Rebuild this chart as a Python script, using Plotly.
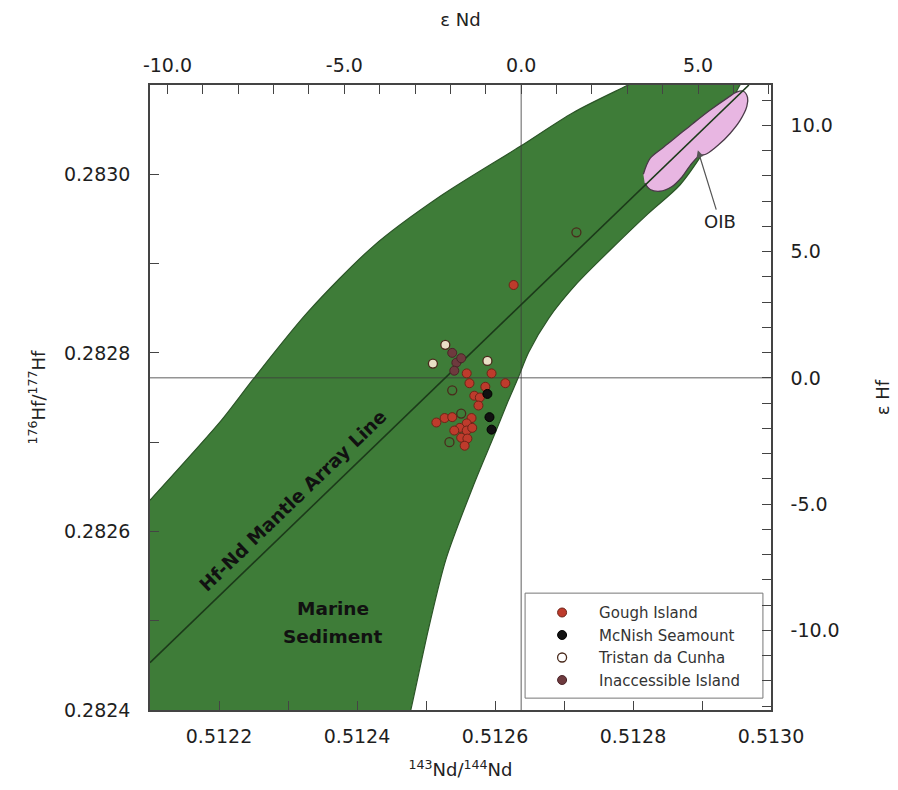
import plotly.graph_objects as go

# Chondritic reference values used for the epsilon axes
CHUR_ND = 0.512638
CHUR_HF = 0.282772

# Axis ranges (primary axes)
nd_range = [0.5121, 0.5130]
hf_range = [0.2824, 0.2831]

# Tick values / labels
nd_tick_vals = [0.5122, 0.5124, 0.5126, 0.5128, 0.5130]
nd_tick_text = ["0.5122", "0.5124", "0.5126", "0.5128", "0.5130"]
nd_minor_vals = [0.5123, 0.5125, 0.5127, 0.5129]
hf_tick_vals = [0.2824, 0.2826, 0.2828, 0.2830]
hf_tick_text = ["0.2824", "0.2826", "0.2828", "0.2830"]
hf_minor_vals = [0.2825, 0.2827, 0.2829]
eps_nd_tick_vals = [-10, -5, 0, 5]
eps_nd_tick_text = ["-10.0", "-5.0", "0.0", "5.0"]
eps_hf_tick_vals = [-10, -5, 0, 5, 10]
eps_hf_tick_text = ["-10.0", "-5.0", "0.0", "5.0", "10.0"]

# Sample data (143Nd/144Nd, 176Hf/177Hf)
gough_nd = [0.512559, 0.512595, 0.512615, 0.512563, 0.512570, 0.512578, 0.512576,
            0.512586, 0.512627, 0.512515, 0.512527, 0.512538, 0.512566, 0.512559,
            0.512549, 0.512559, 0.512567, 0.512551, 0.512560, 0.512556, 0.512541]
gough_hf = [0.282777, 0.282777, 0.282766, 0.282766, 0.282752, 0.282750, 0.282741,
            0.282762, 0.282876, 0.282722, 0.282727, 0.282728, 0.282727, 0.282721,
            0.282716, 0.282713, 0.282716, 0.282705, 0.282704, 0.282696, 0.282713]
mcnish_nd = [0.512589, 0.512592, 0.512595]
mcnish_hf = [0.282754, 0.282728, 0.282714]
tristan_nd = [0.512538, 0.512718, 0.512534, 0.512551, 0.512528, 0.512510, 0.512589]
tristan_hf = [0.282758, 0.282935, 0.282700, 0.282732, 0.282809, 0.282788, 0.282791]
inacc_nd = [0.512538, 0.512544, 0.512551, 0.512541]
inacc_hf = [0.282800, 0.282789, 0.282794, 0.282780]

# Mantle array field outline (corner points lie just outside the frame)
field_nd = [0.51200, 0.51200, 0.51205, 0.5121, 0.512204, 0.512249, 0.512328, 0.512423,
            0.512520, 0.512636, 0.512713, 0.512793, 0.512851, 0.512974, 0.512955,
            0.512933, 0.512904, 0.512868, 0.512822, 0.512768, 0.512719, 0.512678,
            0.512649, 0.512633, 0.512619, 0.512599, 0.512570, 0.512529, 0.512504,
            0.512478, 0.512471]
field_hf = [0.282378, 0.282593, 0.282593, 0.282635, 0.282725, 0.282770, 0.282845, 0.282919,
            0.282975, 0.283031, 0.283069, 0.2831, 0.283122, 0.283122, 0.2831,
            0.283066, 0.283027, 0.282988, 0.282956, 0.282916, 0.282878, 0.282839,
            0.282801, 0.282771, 0.282746, 0.282708, 0.282654, 0.282569, 0.282492,
            0.2824, 0.282378]

# Hf-Nd mantle array line end points
array_nd = [0.5121, 0.512968]
array_hf = [0.282453, 0.2831]

# OIB field outline
oib_nd = [0.512815, 0.512825, 0.512842, 0.512863, 0.512887, 0.512912, 0.512936, 0.512950,
          0.512960, 0.512966, 0.512965, 0.512955, 0.512941, 0.512924, 0.512907, 0.512895,
          0.512883, 0.512871, 0.512856, 0.512839, 0.512825, 0.512817]
oib_hf = [0.283000, 0.283018, 0.283029, 0.283042, 0.283057, 0.283072, 0.283085, 0.283092,
          0.283093, 0.283086, 0.283076, 0.283060, 0.283046, 0.283033, 0.283023, 0.283020,
          0.283010, 0.282997, 0.282986, 0.282981, 0.282983, 0.282990]

eps_nd_range = [(v / CHUR_ND - 1) * 1e4 for v in nd_range]
eps_hf_range = [(v / CHUR_HF - 1) * 1e4 for v in hf_range]

fig = go.Figure()

fig.add_trace(go.Scatter(x=field_nd, y=field_hf, mode="lines", fill="toself",
                         fillcolor="#3e7c38",
                         line=dict(color="#2b5527", width=1.2, shape="spline", smoothing=0.8),
                         showlegend=False, hoverinfo="skip"))
fig.add_trace(go.Scatter(x=oib_nd, y=oib_hf, mode="lines", fill="toself",
                         fillcolor="#e8b6e2", line=dict(color="#4a3a48", width=1.3, shape="spline"),
                         showlegend=False, hoverinfo="skip"))
# reference lines eps = 0
fig.add_trace(go.Scatter(x=[CHUR_ND, CHUR_ND], y=hf_range, mode="lines",
                         line=dict(color="rgba(60,60,60,0.55)", width=1.5),
                         showlegend=False, hoverinfo="skip"))
fig.add_trace(go.Scatter(x=nd_range, y=[CHUR_HF, CHUR_HF], mode="lines",
                         line=dict(color="rgba(60,60,60,0.55)", width=1.5),
                         showlegend=False, hoverinfo="skip"))
fig.add_trace(go.Scatter(x=array_nd, y=array_hf, mode="lines",
                         line=dict(color="#1c3a1a", width=1.6),
                         showlegend=False, hoverinfo="skip"))

msize = 9
fig.add_trace(go.Scatter(x=inacc_nd, y=inacc_hf, mode="markers", name="Inaccessible Island",
                         legendrank=4,
                         marker=dict(size=msize, color="#6e3a3e", line=dict(color="#4a2428", width=1))))
fig.add_trace(go.Scatter(x=gough_nd, y=gough_hf, mode="markers", name="Gough Island",
                         legendrank=1,
                         marker=dict(size=msize, color="#be3b2c", line=dict(color="#6e2418", width=1))))
fig.add_trace(go.Scatter(x=mcnish_nd, y=mcnish_hf, mode="markers", name="McNish Seamount",
                         legendrank=2,
                         marker=dict(size=msize, color="#111111", line=dict(color="#000000", width=1))))
tristan_fill = ["rgba(255,255,255,0)", "rgba(255,255,255,0)", "rgba(255,255,255,0)",
                "rgba(255,255,255,0)", "#e9dfc6", "#e9dfc6", "#e9dfc6"]
fig.add_trace(go.Scatter(x=tristan_nd, y=tristan_hf, mode="markers", name="Tristan da Cunha",
                         legendrank=3,
                         marker=dict(size=msize, color=tristan_fill, line=dict(color="#4a2a1c", width=1.3))))

# invisible trace to activate epsilon axes
fig.add_trace(go.Scatter(x=eps_nd_range, y=eps_hf_range, xaxis="x2", yaxis="y2", mode="markers",
                         marker=dict(opacity=0), showlegend=False, hoverinfo="skip"))

tick_font = dict(family="DejaVu Sans", size=19, color="#1e1e1e")
title_font = dict(family="DejaVu Sans", size=18, color="#222")
common = dict(showgrid=False, zeroline=False, showline=True, linecolor="#444", linewidth=1.5,
              ticks="inside", ticklen=9, tickwidth=1.2, tickcolor="#444", tickfont=tick_font,
              tickmode="array", fixedrange=True, automargin=False)
minor_common = dict(ticks="inside", ticklen=9, tickwidth=1.2, tickcolor="#444", showgrid=False)

fig.update_layout(
    width=898, height=790,
    margin=dict(l=150, r=127, t=85, b=80),
    plot_bgcolor="white", paper_bgcolor="white",
    xaxis=dict(range=nd_range, tickvals=nd_tick_vals, ticktext=nd_tick_text,
               minor=dict(tickmode="array", tickvals=nd_minor_vals, **minor_common),
               title=dict(text="<sup>143</sup>Nd/<sup>144</sup>Nd", font=title_font, standoff=18),
               ticklabelstandoff=8, **common),
    yaxis=dict(range=hf_range, tickvals=hf_tick_vals, ticktext=hf_tick_text,
               minor=dict(tickmode="array", tickvals=hf_minor_vals, **minor_common),
               title=dict(text="<sup>176</sup>Hf/<sup>177</sup>Hf", font=title_font, standoff=14),
               ticklabelstandoff=14, **common),
    xaxis2=dict(range=eps_nd_range, overlaying="x", side="top", anchor="y",
                tickvals=eps_nd_tick_vals, ticktext=eps_nd_tick_text,
                minor=dict(tickmode="linear", tick0=0, dtick=1, **minor_common),
                title=dict(text="ε Nd", font=title_font, standoff=22),
                ticklabelstandoff=4, **common),
    yaxis2=dict(range=eps_hf_range, overlaying="y", side="right", anchor="x",
                tickvals=eps_hf_tick_vals, ticktext=eps_hf_tick_text,
                minor=dict(tickmode="linear", tick0=0, dtick=1, **minor_common),
                title=dict(text="ε Hf", font=title_font, standoff=38),
                ticklabelstandoff=14, **common),
    legend=dict(x=0.604, y=0.182, xanchor="left", yanchor="top", bgcolor="rgba(0,0,0,0)",
                borderwidth=0, font=dict(family="DejaVu Sans", size=15, color="#333"),
                itemwidth=64, traceorder="normal"),
    showlegend=True,
)

fig.add_shape(type="rect", xref="paper", yref="paper", x0=0.604, x1=0.987, y0=0.019, y1=0.187,
              line=dict(color="#777", width=1), fillcolor="white", layer="below")

label_font = dict(family="DejaVu Sans", size=18.5, color="#111")
fig.add_annotation(text="<b>Hf-Nd Mantle Array Line</b>", x=0.512307, y=0.282635,
                   textangle=-44, showarrow=False, font=label_font)
fig.add_annotation(text="<b>Marine</b>", x=0.512365, y=0.282514, showarrow=False, font=label_font)
fig.add_annotation(text="<b>Sediment</b>", x=0.512365, y=0.282482, showarrow=False, font=label_font)
fig.add_annotation(text="OIB", x=0.512894, y=0.283027, ax=0.512926, ay=0.282947,
                   axref="x", ayref="y", showarrow=True, arrowhead=2, arrowsize=1.2,
                   arrowwidth=1.2, arrowcolor="#555", font=dict(family="DejaVu Sans", size=18, color="#222"))

fig.write_html("out.html")
